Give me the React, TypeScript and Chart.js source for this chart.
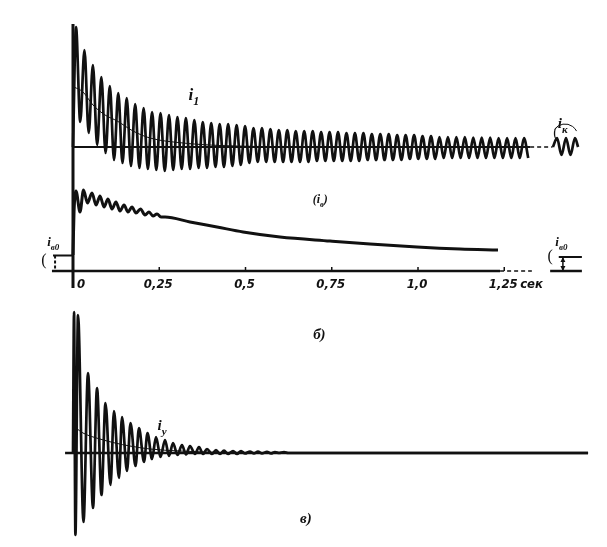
import React, { useEffect, useRef } from "react";
import { Chart, registerables } from "chart.js";

Chart.register(...registerables);

// ---- time axis (seconds) ----
const timeTicks = [0, 0.25, 0.5, 0.75, 1.0, 1.25];
const timeTickLabels = ["0", "0,25", "0,5", "0,75", "1,0", "1,25"];
const timeUnit = "сек";

// ---- i1 : oscillation extremes ----
const i1Period = 0.0245; // s, one cycle of the recorded oscillation
const i1FirstPeak = 0.0087; // s
const i1Peaks = [
  12.0, 9.7, 8.2, 7.0, 6.1, 5.4, 4.9, 4.3, 3.9, 3.5, 3.4, 3.2, 3.0, 2.9, 2.7, 2.5, 2.4, 2.3,
  2.3, 2.2, 2.1, 1.9, 1.9, 1.8, 1.7, 1.7, 1.6, 1.6, 1.6, 1.5, 1.5, 1.5, 1.4, 1.4, 1.4, 1.3,
  1.3, 1.3, 1.2, 1.2, 1.2, 1.1, 1.1, 1.0, 1.0, 1.0, 1.0, 0.95, 0.95, 0.95, 0.9, 0.9, 0.9, 0.9,
];
const i1Troughs = [
  2.5, 1.4, 0.2, -0.6, -1.3, -1.6, -1.9, -2.1, -2.2, -2.3, -2.4, -2.3, -2.2, -2.2, -2.1, -2.1,
  -2.0, -2.0, -1.9, -1.8, -1.6, -1.5, -1.5, -1.5, -1.5, -1.5, -1.5, -1.5, -1.4, -1.4, -1.4,
  -1.4, -1.4, -1.4, -1.3, -1.3, -1.3, -1.3, -1.3, -1.2, -1.2, -1.2, -1.2, -1.1, -1.1, -1.1,
  -1.1, -1.1, -1.1, -1.1, -1.1, -1.1, -1.1, -1.1,
];
// thin aperiodic component inside i1
const i1MeanT = [0.003, 0.029, 0.058, 0.093, 0.128, 0.174, 0.223, 0.319, 0.426, 0.542];
const i1MeanV = [6.0, 5.5, 4.2, 3.2, 2.6, 1.6, 0.9, 0.4, 0.15, 0.05];
// steady-state fragment i_k after the break
const ikT = [1.391, 1.403, 1.416, 1.429, 1.442, 1.455, 1.464];
const ikV = [0, 0.9, -0.8, 0.9, -0.8, 0.9, 0];

// ---- i_в : field current ----
const ibT = [
  0, 0.003, 0.0087, 0.0203, 0.0304, 0.042, 0.055, 0.0667, 0.0783, 0.0899, 0.1014, 0.113, 0.1246,
  0.1362, 0.1478, 0.1594, 0.171, 0.1826, 0.1957, 0.2087, 0.2203, 0.2319, 0.2435, 0.2551, 0.2667,
  0.3391, 0.4174, 0.4928, 0.6, 0.7449, 0.8609, 0.9971, 1.1217, 1.2319,
];
const ibV = [
  1.6, 5.9, 8.0, 5.9, 8.1, 6.8, 7.8, 6.6, 7.5, 6.4, 7.2, 6.2, 6.9, 6.0, 6.6, 5.9, 6.4, 5.8, 6.2,
  5.6, 5.9, 5.5, 5.7, 5.4, 5.4, 4.9, 4.4, 3.9, 3.4, 3.0, 2.7, 2.4, 2.2, 2.1,
];

// ---- i_у : damper current ----
const iyT = [
  0, 0.003, 0.007, 0.0145, 0.0304, 0.0435, 0.058, 0.0696, 0.0826, 0.0942, 0.1087, 0.1188, 0.1333,
  0.142, 0.1565, 0.1667, 0.1812, 0.1913, 0.2058, 0.2159, 0.229, 0.2406, 0.2536, 0.2667, 0.2783,
  0.2899, 0.3029, 0.3159, 0.3275, 0.3391, 0.3536, 0.3652, 0.3768, 0.3884, 0.4029, 0.4145, 0.4261,
  0.4377, 0.4493, 0.4638, 0.4754, 0.487, 0.4986, 0.513, 0.5246, 0.5362, 0.5478, 0.5623, 0.5739,
  0.5855, 0.5971, 0.6116, 0.6232, 1.4928,
];
const iyV = [
  0, 14.1, -8.2, 13.8, -6.9, 8.0, -5.5, 6.5, -4.2, 5.0, -3.2, 4.2, -2.5, 3.6, -1.8, 3.0, -1.3, 2.5,
  -0.9, 2.0, -0.6, 1.6, -0.4, 1.3, -0.3, 1.0, -0.2, 0.8, -0.15, 0.7, -0.1, 0.6, -0.1, 0.4, -0.1,
  0.3, -0.1, 0.25, -0.1, 0.2, -0.1, 0.2, -0.05, 0.15, -0.05, 0.15, -0.05, 0.12, -0.05, 0.1, 0, 0.1,
  0, 0,
];
const iyMeanT = [0.0087, 0.029, 0.078, 0.122, 0.165, 0.223, 0.31, 0.426];
const iyMeanV = [2.5, 2.0, 1.4, 1.0, 0.7, 0.4, 0.2, 0.05];

const INK = "#111";

const pairs = (ts: number[], vs: number[]) => ts.map((t, i) => ({ x: t, y: vs[i] }));

const overlay = {
  id: "overlay",
  beforeDatasetsDraw(chart: any) {
    const { ctx, scales } = chart;
    const X = (t: number) => scales.x.getPixelForValue(t);
    const Y1 = (v: number) => scales.y1.getPixelForValue(v);
    const Y2 = (v: number) => scales.y2.getPixelForValue(v);
    const Y3 = (v: number) => scales.y3.getPixelForValue(v);
    const seg = (x1: number, y1: number, x2: number, y2: number, w: number, dash: number[] = []) => {
      ctx.beginPath();
      ctx.setLineDash(dash);
      ctx.lineWidth = w;
      ctx.moveTo(x1, y1);
      ctx.lineTo(x2, y2);
      ctx.stroke();
      ctx.setLineDash([]);
    };
    ctx.save();
    ctx.strokeStyle = INK;
    ctx.fillStyle = INK;
    // common vertical axis (top and middle oscillograms)
    seg(X(0), Y1(12.3), X(0), Y2(-1.7), 3);
    // i1 zero line
    seg(X(0), Y1(0), X(1.325), Y1(0), 2);
    seg(X(1.325), Y1(0), X(1.39), Y1(0), 1.5, [4, 3]);
    // time axis
    seg(X(-0.061), Y2(0), X(1.238), Y2(0), 2.5);
    seg(X(1.238), Y2(0), X(1.33), Y2(0), 1.5, [4, 3]);
    seg(X(1.383), Y2(0), X(1.475), Y2(0), 2.5);
    timeTicks.forEach((t) => {
      if (t > 0) seg(X(t), Y2(0), X(t), Y2(0) - 4, 1.5);
    });
    // left i_в0 bracket
    seg(X(-0.058), Y2(1.55), X(0), Y2(1.55), 2);
    seg(X(-0.052), Y2(1.55), X(-0.052), Y2(0), 2, [3, 2]);
    // right i_в0 level with arrow
    seg(X(1.408), Y2(1.4), X(1.475), Y2(1.4), 2);
    const ax = X(1.42);
    seg(ax, Y2(1.4), ax, Y2(0), 1.5);
    ctx.beginPath();
    ctx.moveTo(ax, Y2(1.4));
    ctx.lineTo(ax - 2.5, Y2(1.4) + 5);
    ctx.lineTo(ax + 2.5, Y2(1.4) + 5);
    ctx.closePath();
    ctx.fill();
    ctx.beginPath();
    ctx.moveTo(ax, Y2(0));
    ctx.lineTo(ax - 2.5, Y2(0) - 5);
    ctx.lineTo(ax + 2.5, Y2(0) - 5);
    ctx.closePath();
    ctx.fill();
    // i_у zero line
    seg(X(-0.023), Y3(0), X(1.493), Y3(0), 2.5);
    ctx.restore();
  },
  afterDatasetsDraw(chart: any) {
    const { ctx, scales } = chart;
    const X = (t: number) => scales.x.getPixelForValue(t);
    const Y1 = (v: number) => scales.y1.getPixelForValue(v);
    const Y2 = (v: number) => scales.y2.getPixelForValue(v);
    const Y3 = (v: number) => scales.y3.getPixelForValue(v);
    const serif = '"Liberation Serif", "DejaVu Serif", serif';
    const txt = (s: string, x: number, y: number, font: string, align: CanvasTextAlign = "left") => {
      ctx.font = font;
      ctx.textAlign = align;
      ctx.textBaseline = "alphabetic";
      ctx.fillText(s, x, y);
      return ctx.measureText(s).width;
    };
    const sub = (main: string, s: string, x: number, y: number, size: number) => {
      const w = txt(main, x, y, `italic bold ${size}px ${serif}`);
      return w + txt(s, x + w, y + size * 0.3, `italic bold ${Math.round(size * 0.7)}px ${serif}`);
    };
    ctx.save();
    ctx.fillStyle = INK;
    ctx.strokeStyle = INK;
    // tick labels
    const tickFont = 'italic bold 13px "Liberation Sans Narrow", "DejaVu Sans Condensed", sans-serif';
    timeTicks.forEach((t, i) => {
      if (t === 0) txt(timeTickLabels[i], X(t) + 4, Y2(0) + 17, tickFont, "left");
      else txt(timeTickLabels[i], X(t) - 1, Y2(0) + 17, tickFont, "center");
    });
    txt(timeUnit, X(1.296), Y2(0) + 17, tickFont, "left");
    // i1
    sub("i", "1", X(0.335), Y1(4.7), 17);
    // i_к with bracket
    sub("i", "к", X(1.405), Y1(1.9), 15);
    txt("(", X(1.392), Y1(1.0), `14px ${serif}`);
    ctx.lineWidth = 1;
    ctx.beginPath();
    ctx.arc(X(1.426), Y1(1.0), 13, Math.PI * 1.2, Math.PI * 1.85);
    ctx.stroke();
    // (i_в) in the middle
    const w0 = txt("(", X(0.695), Y2(6.8), `italic bold 12px ${serif}`);
    const w1 = sub("i", "в", X(0.695) + w0, Y2(6.8), 12);
    txt(")", X(0.695) + w0 + w1, Y2(6.8), `italic bold 12px ${serif}`);
    // left i_в0
    sub("i", "в0", X(-0.075), Y2(2.5), 13);
    txt("(", X(-0.092), Y2(0.65), `16px ${serif}`);
    // right i_в0
    sub("i", "в0", X(1.398), Y2(2.5), 13);
    txt("(", X(1.375), Y2(1.0), `16px ${serif}`);
    // i_у
    sub("i", "у", X(0.245), Y3(2.3), 15);
    // panel letters
    txt("б)", X(0.696), Y2(-6.8), `italic bold 15px ${serif}`);
    txt("в)", X(0.658), Y3(-7.0), `italic bold 15px ${serif}`);
    ctx.restore();
  },
};

export default function App() {
  const ref = useRef<HTMLCanvasElement>(null);
  useEffect(() => {
    const canvas = ref.current;
    if (!canvas) return;
    const i1Data: { x: number; y: number }[] = [{ x: 0, y: 0 }];
    for (let k = 0; k < i1Peaks.length; k++) {
      i1Data.push({ x: i1FirstPeak + k * i1Period, y: i1Peaks[k] });
      i1Data.push({ x: i1FirstPeak + (k + 0.5) * i1Period, y: i1Troughs[k] });
    }
    const trace = {
      borderColor: INK,
      borderWidth: 2.7,
      pointRadius: 0,
      fill: false,
      tension: 0.4,
      cubicInterpolationMode: "monotone" as const,
    };
    const thin = { ...trace, borderWidth: 1 };
    const chart = new Chart(canvas, {
      type: "line",
      data: {
        datasets: [
          { data: i1Data, yAxisID: "y1", ...trace },
          { data: pairs(i1MeanT, i1MeanV), yAxisID: "y1", ...thin },
          { data: pairs(ikT, ikV), yAxisID: "y1", ...trace },
          { data: pairs(ibT, ibV), yAxisID: "y2", ...trace, borderWidth: 3 },
          { data: pairs(iyT, iyV), yAxisID: "y3", ...trace },
          { data: pairs(iyMeanT, iyMeanV), yAxisID: "y3", ...thin },
        ],
      },
      options: {
        responsive: false,
        animation: false,
        events: [],
        layout: { padding: 0 },
        plugins: { legend: { display: false }, tooltip: { enabled: false } },
        scales: {
          x: { type: "linear", min: -0.2116, max: 1.5478, display: false },
          y1: { type: "linear", min: -40, max: 14.7, display: false },
          y2: { type: "linear", min: -27.6, max: 27.1, display: false },
          y3: { type: "linear", min: -9.4, max: 45.3, display: false },
        },
      },
      plugins: [overlay],
    });
    return () => chart.destroy();
  }, []);
  return (
    <div style={{ position: "fixed", left: 0, top: 0, width: 607, height: 547, background: "#fff" }}>
      <canvas ref={ref} width={607} height={547} style={{ display: "block" }} />
    </div>
  );
}
